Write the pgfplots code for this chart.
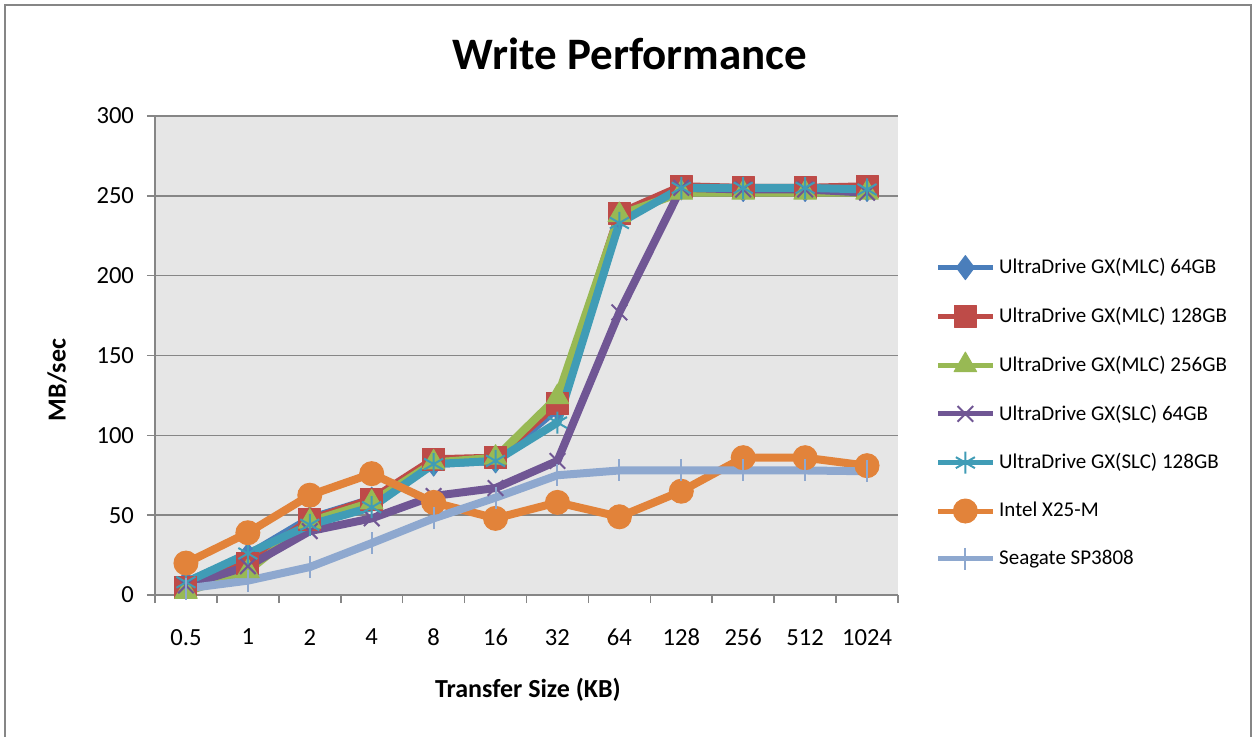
\documentclass[border=0pt]{standalone}
\usepackage{pgfplots}
\pgfplotsset{compat=1.18}
\usepackage{fontspec}
\setmainfont{Carlito}
\usetikzlibrary{plotmarks}
\definecolor{cblue}{RGB}{74,126,187}
\definecolor{cred}{RGB}{190,75,72}
\definecolor{cgreen}{RGB}{152,185,84}
\definecolor{cpurple}{RGB}{112,86,148}
\definecolor{cteal}{RGB}{64,156,182}
\definecolor{corange}{RGB}{226,131,58}
\definecolor{clblue}{RGB}{142,168,207}
\definecolor{cgrid}{RGB}{134,134,134}
\definecolor{cbg}{RGB}{230,230,230}
\begin{document}
\begin{tikzpicture}
\useasboundingbox (0,0) rectangle (626.5pt,368pt);
\draw[cgrid, line width=1pt] (2.5pt,-10pt) -- (2.5pt,365.5pt) -- (625.5pt,365.5pt) -- (625.5pt,-10pt);
\node[font=\bfseries\fontsize{22.5}{26}\selectfont] at (315pt,341pt) {Write Performance};
\node[font=\bfseries\fontsize{13}{15}\selectfont] at (264pt,23pt) {Transfer Size (KB)};
\node[font=\bfseries\fontsize{13}{15}\selectfont, rotate=90] at (28.5pt,178pt) {MB/sec};
\begin{axis}[
  at={(77.5pt,70.5pt)}, anchor=south west,
  scale only axis, width=371.5pt, height=239.5pt,
  xmin=-0.5, xmax=11.5, ymin=0, ymax=300,
  axis background/.style={fill=cbg},
  axis lines*=left,
  axis line style={cgrid, line width=0.8pt, -},
  xtick={0,...,11},
  xticklabels={0.5,1,2,4,8,16,32,64,128,256,512,1024},
  minor xtick={-0.5,0.5,...,11.5},
  major x tick style={draw=none},
  minor x tick style={cgrid, line width=0.8pt},
  ytick={0,50,...,300},
  y tick style={cgrid, line width=0.8pt},
  tick align=outside,
  major tick length=4pt, minor tick length=4pt,
  ymajorgrids, grid style={cgrid, line width=0.8pt},
  /pgf/number format/assume math mode=true,
  ticklabel style={font=\fontsize{12.3}{14}\selectfont},
  xticklabel style={yshift=-9.5pt},
  yticklabel style={xshift=-3pt},
  legend style={draw=none, fill=none, at={(1.05,0.38)}, anchor=west,
     font=\fontsize{10.5}{12}\selectfont, row sep=11.2pt, inner sep=0pt},
  legend cell align=left,
  legend image code/.code={\draw[mark repeat=2,mark phase=2,line width=2.5pt] plot coordinates {(0cm,0cm) (0.48cm,0cm) (0.96cm,0cm)};},
  every axis plot/.append style={line width=4pt, line join=round},
]
\addplot[cblue, mark=diamond*, mark size=6pt, mark options={solid, line width=0.5pt}] coordinates {
(0,8) (1,25) (2,48) (3,60) (4,82) (5,84) (6,117) (7,237) (8,255) (9,254) (10,254) (11,254)};
\addlegendentry{UltraDrive GX(MLC) 64GB}
\addplot[cred, mark=square*, mark size=5.5pt, mark options={solid, line width=0.5pt}] coordinates {
(0,5) (1,20) (2,47) (3,60) (4,85) (5,86) (6,120) (7,239) (8,256) (9,255) (10,255) (11,256)};
\addlegendentry{UltraDrive GX(MLC) 128GB}
\addplot[cgreen, mark=triangle*, mark size=6.5pt, mark options={solid, line width=0.5pt}] coordinates {
(0,2) (1,15) (2,46) (3,58) (4,83) (5,86) (6,124) (7,238) (8,252) (9,252) (10,252) (11,252)};
\addlegendentry{UltraDrive GX(MLC) 256GB}
\addplot[cpurple, mark=x, mark size=5.5pt, mark options={solid, line width=1pt}] coordinates {
(0,6) (1,18) (2,40) (3,48) (4,62) (5,67) (6,84) (7,177) (8,255) (9,254) (10,254) (11,252)};
\addlegendentry{UltraDrive GX(SLC) 64GB}
\addplot[cteal, mark=asterisk, mark size=5.5pt, mark options={solid, line width=1pt}] coordinates {
(0,8) (1,26) (2,44) (3,55) (4,82) (5,84) (6,108) (7,233) (8,255) (9,255) (10,255) (11,254)};
\addlegendentry{UltraDrive GX(SLC) 128GB}
\addplot[corange, mark=*, mark size=6pt, mark options={solid, line width=0.5pt}] coordinates {
(0,20) (1,39) (2,62.5) (3,76) (4,58) (5,48) (6,58) (7,49) (8,65) (9,86) (10,86) (11,81)};
\addlegendentry{Intel X25-M}
\addplot[clblue, mark=|, mark size=5.5pt, mark options={solid, line width=1pt}] coordinates {
(0,4) (1,9) (2,17.5) (3,32.5) (4,48) (5,61) (6,75) (7,78) (8,78) (9,78) (10,78) (11,77.5)};
\addlegendentry{Seagate SP3808}
\end{axis}
\end{tikzpicture}
\end{document}
